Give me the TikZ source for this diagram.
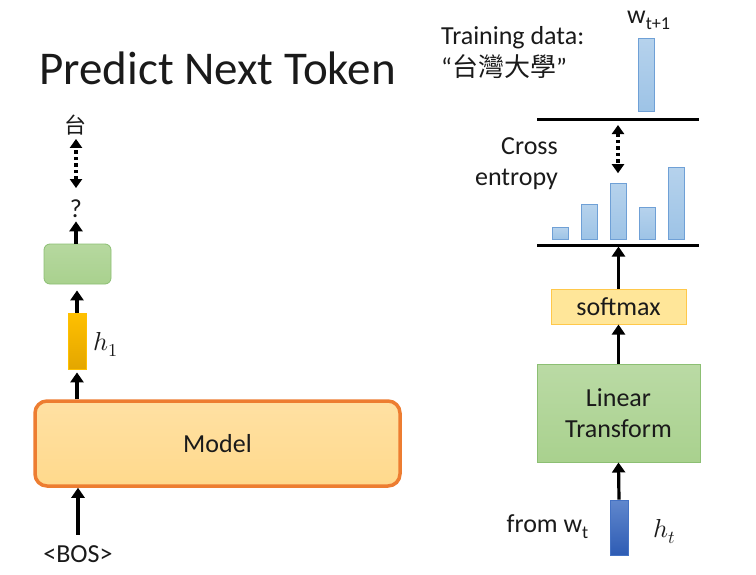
\documentclass[tikz,border=0pt]{standalone}
\usepackage{fontspec}
\usepackage{unicode-math}
\setmainfont{Carlito}
\newfontfamily\ntpcjk{Noto Sans CJK TC}
\usetikzlibrary{arrows.meta}
\definecolor{ntpInk}{HTML}{1A1A1A}
\definecolor{ntpOrange}{HTML}{ED7D31}
\definecolor{ntpPeach}{HTML}{FFD98C}
\definecolor{ntpGreen}{HTML}{A9D18E}
\definecolor{ntpGreenEdge}{HTML}{8CBF73}
\definecolor{ntpGold}{HTML}{FFC000}
\definecolor{ntpGoldDark}{HTML}{E3A600}
\definecolor{ntpButter}{HTML}{FFE699}
\definecolor{ntpButterEdge}{HTML}{FFC84A}
\definecolor{ntpBlue}{HTML}{4472C4}
\definecolor{ntpBlueDark}{HTML}{2E5CB4}
\definecolor{ntpSky}{HTML}{9DC3E6}
\definecolor{ntpSkyEdge}{HTML}{6FA0D6}
\tikzset{
  ntp arrow/.style={draw=black, line width=3.2pt, -{Triangle[length=10pt,width=13pt]}},
  ntp link/.style={draw=black, line width=3.2pt, dash pattern=on 3.5pt off 3pt, {Triangle[length=9pt,width=12pt]}-{Triangle[length=9pt,width=12pt]}},
  ntp rule/.style={draw=black, line width=3pt},
  ntp text/.style={font=\fontsize{26}{31}\selectfont, text=ntpInk, inner sep=0pt},
  ntp model/.style={rectangle, rounded corners=12pt, draw=ntpOrange, line width=3.5pt, top color=ntpPeach!80!white, bottom color=ntpPeach, minimum width=365pt, minimum height=85pt},
  ntp head/.style={rectangle, rounded corners=6pt, draw=ntpGreenEdge, line width=0.8pt, top color=ntpGreen!85!white, bottom color=ntpGreen, minimum width=67pt, minimum height=40pt},
  ntp linear/.style={rectangle, draw=ntpGreenEdge, line width=1pt, top color=ntpGreen!80!white, bottom color=ntpGreen, minimum width=163pt, minimum height=98pt, align=center},
  ntp softmax/.style={rectangle, draw=ntpButterEdge, line width=1pt, fill=ntpButter, minimum width=135pt, minimum height=35pt},
  ntp hidden/.style={rectangle, draw=ntpGold, line width=0.8pt, top color=ntpGold, bottom color=ntpGoldDark, minimum width=18pt, minimum height=56pt, inner sep=0pt},
  ntp vec/.style={rectangle, draw=ntpBlue, line width=0.8pt, top color=ntpBlue!85!white, bottom color=ntpBlueDark, minimum width=18pt, minimum height=55pt, inner sep=0pt},
  ntp bar/.style={rectangle, draw=ntpSkyEdge, line width=0.8pt, top color=ntpSky!75!white, bottom color=ntpSky, minimum width=16pt, inner sep=0pt, anchor=south},
}
\begin{document}
\begin{tikzpicture}[x=1pt,y=-1pt]
\useasboundingbox (0,0) rectangle (756,574);
\node[ntp text, font=\fontsize{47}{56}\selectfont, anchor=base west] (title) at (39,84) {Predict Next Token};
% left: one step of the model
\node[ntp text, anchor=base] (bos) at (78,562) {<BOS>};
\node[ntp model] (model) at (217.5,443.5) {};
\node[ntp text] at (model.center) {Model};
\node[ntp hidden] (h1) at (77,341) {};
\node[ntp text, anchor=base west] (h1lbl) at (93,350) {$h_1$};
\node[ntp head] (head) at (77.5,264) {};
\node[ntp text, anchor=base] (guess) at (76,217) {?};
\node[ntp text, font=\fontsize{22}{26}\selectfont\ntpcjk, anchor=base] (tai) at (75,133) {台};
\draw[ntp arrow, shorten <=10pt] (bos.north) -- (bos.north |- model.south);
\draw[ntp arrow, shorten >=3pt] (model.north -| h1.south) -- (h1.south);
\draw[ntp arrow, shorten >=6pt] (h1.north) -- (h1.north |- head.south);
\draw[ntp arrow, shorten >=4pt] (head.north -| guess.south) -- (guess.south);
\draw[ntp link, shorten <=11pt, shorten >=4pt] (guess.north) -- (guess.north |- tai.south);
% right: output layer
\node[ntp vec] (ht) at (619,527.5) {};
\node[ntp text, anchor=base east] (fromw) at (589,532) {from w\textsubscript{t}};
\node[ntp text, anchor=base west] (htlbl) at (653,537) {$h_t$};
\node[ntp linear, ntp text, inner sep=0pt] (linear) at (618.5,413) {Linear\\Transform};
\node[ntp softmax, ntp text] (softmax) at (618.5,306.5) {softmax};
\coordinate (predL) at (537,245);
\coordinate (predR) at (699,245);
\coordinate (goldL) at (537,119);
\coordinate (goldR) at (699,119);
\draw[ntp rule] (predL) -- (predR);
\draw[ntp rule] (goldL) -- (goldR);
\foreach \n/\x/\h in {1/560/12,2/589/35,3/618/56,4/647/32,5/676/72}{\node[ntp bar, minimum height=\h pt] (p\n) at (\x,240) {};}
\node[ntp bar, minimum height=73pt] (target) at (646,112) {};
\node[ntp text, anchor=base west] (wnext) at (627,23) {w\textsubscript{t+1}};
\node[ntp text, anchor=base west] (train) at (441,44) {Training data:};
\node[ntp text, anchor=base west] (word) at (441,76) {“{\ntpcjk 台灣大學}”};
\node[ntp text, align=right, anchor=east] (ce) at (558,164) {Cross\\entropy};
\draw[ntp arrow] (ht.north) -- (linear.south);
\draw[ntp arrow] (linear.north) -- (softmax.south);
\draw[ntp arrow, shorten >=1.5pt] (softmax.north) -- (softmax.north |- predL);
\draw[ntp link, shorten <=6pt, shorten >=10pt] (p3.north |- goldL) -- (p3.north);
\end{tikzpicture}
\end{document}
